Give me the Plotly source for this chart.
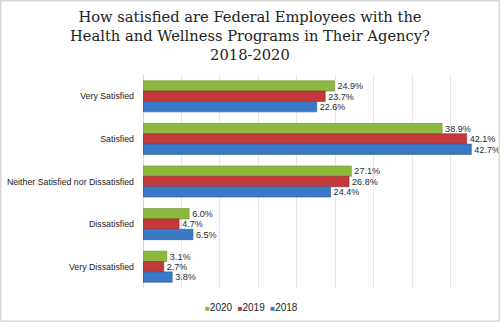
import plotly.graph_objects as go

categories = ["Very Satisfied", "Satisfied", "Neither Satisfied nor Dissatisfied", "Dissatisfied", "Very Dissatisfied"]
years = ["2020", "2019", "2018"]
v2020 = [24.9, 38.9, 27.1, 6.0, 3.1]
v2019 = [23.7, 42.1, 26.8, 4.7, 2.7]
v2018 = [22.6, 42.7, 24.4, 6.5, 3.8]
colors = ["#8CB83F", "#C4393A", "#3B78C6"]
lines = ["#6F9430", "#98292B", "#2B5C9C"]

fig = go.Figure()
for name, vals, c, lc in zip(years, [v2020, v2019, v2018], colors, lines):
    fig.add_trace(go.Bar(
        y=categories, x=vals, name=name, orientation="h",
        marker=dict(color=c, line=dict(color=lc, width=0.6)),
        text=[f"{v:.1f}%" for v in vals], textposition="outside",
        textfont=dict(family="Liberation Sans, Arial", size=9.6, color="#2A2A2A"),
        cliponaxis=False,
    ))

L, R, T, B = 143, 11, 75, 34
PW, PH = 500 - L - R, 322 - T - B

legend_text = "&nbsp;&nbsp;".join(
    f"<span style='color:{c}; font-size:8px'>■</span>{y}" for y, c in zip(years, colors)
)

fig.update_layout(
    width=500, height=322,
    margin=dict(l=L, r=R, t=T, b=B),
    paper_bgcolor="white", plot_bgcolor="white",
    barmode="group", bargap=0.27, bargroupgap=0,
    showlegend=False,
    xaxis=dict(range=[0, 45], dtick=5, showticklabels=False, showgrid=True,
               gridcolor="#ECEAE0", gridwidth=1, zeroline=True, zerolinecolor="#C9D9EE",
               zerolinewidth=1, fixedrange=True),
    yaxis=dict(autorange="reversed", automargin=False,
               tickfont=dict(family="Liberation Sans, Arial", size=8.8, color="#1A1A1A"),
               ticks="", showgrid=False, ticklabelstandoff=8),
    annotations=[
        dict(text="How satisfied are Federal Employees with the<br>Health and Wellness Programs in Their Agency?<br>2018-2020",
             xref="paper", yref="paper", x=(250 - L) / PW, y=1 + (T - 6) / PH,
             xanchor="center", yanchor="top", showarrow=False, align="center",
             font=dict(family="DejaVu Serif", size=14.7, color="#222222")),
        dict(text=legend_text, xref="paper", yref="paper",
             x=(251 - L) / PW, y=-(307 - (322 - B)) / PH,
             xanchor="center", yanchor="middle", showarrow=False,
             font=dict(family="Liberation Sans, Arial", size=10, color="#222222")),
    ],
    shapes=[dict(type="rect", xref="paper", yref="paper",
                 x0=-(L - 0.75) / PW, x1=1 + (R - 0.75) / PW,
                 y0=-(B - 0.75) / PH, y1=1 + (T - 0.75) / PH,
                 line=dict(color="#D8D8D8", width=1.5))],
)

fig.write_html("out.html")
